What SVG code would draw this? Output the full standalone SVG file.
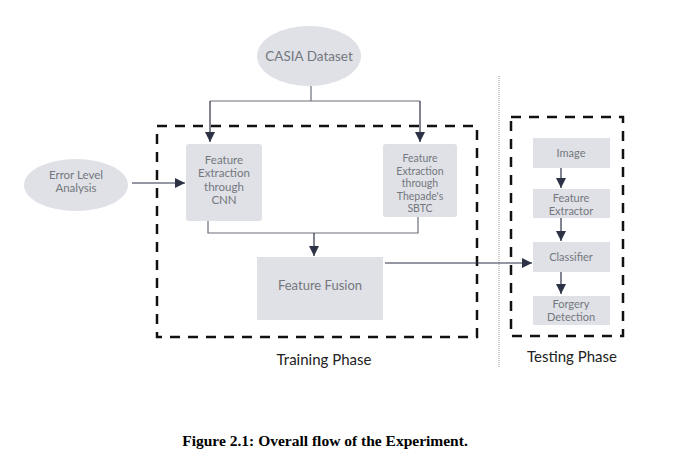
<svg xmlns="http://www.w3.org/2000/svg" width="679" height="457" viewBox="0 0 679 457">
<defs>
<marker id="ah" viewBox="0 0 10 10" refX="10" refY="5" markerWidth="10" markerHeight="10" markerUnits="userSpaceOnUse" orient="auto">
<path d="M0,0 L10,5 L0,10 Z" fill="#2d3246"/>
</marker>
<style>
.box{fill:#dfe1e6;}
.t{font-family:Lato,"Open Sans","Liberation Sans",sans-serif;fill:#74777e;text-anchor:middle;}
.ln{fill:none;stroke:#6b6f7a;stroke-width:1.2;}
.arr{fill:none;stroke:#2d3246;stroke-width:1.2;marker-end:url(#ah);}
.dash{fill:none;stroke:#111;stroke-width:2.5;stroke-dasharray:10 8;}
.ph{font-family:Lato,"Open Sans","Liberation Sans",sans-serif;fill:#222;text-anchor:middle;font-size:15px;}
</style>
</defs>
<rect width="679" height="457" fill="#fff"/>
<g id="training-frame"><rect class="dash" x="157" y="126" width="320" height="211"/></g>
<g id="testing-frame"><rect class="dash" x="511" y="117" width="112" height="219"/></g>
<g id="divider"><line x1="499" y1="76" x2="499" y2="368" stroke="#999" stroke-width="1" stroke-dasharray="1 1"/></g>
<g id="connectors">
<path class="ln" d="M311,86 V101 M210,101 H420"/>
<path class="arr" d="M210,101 V142"/>
<path class="arr" d="M420,101 V142"/>
<path class="ln" d="M208,221 V233 H418 V217"/>
<path class="arr" d="M314,233 V256"/>
<path class="arr" d="M132,183 H185"/>
<path class="arr" d="M385,263 H532"/>
<path class="arr" d="M561,168 V188"/>
<path class="arr" d="M561,218 V241"/>
<path class="arr" d="M561,272 V294"/>
</g>
<g id="casia">
<ellipse cx="309" cy="56" rx="52" ry="30" fill="#dfe1e6"/>
<text class="t" x="309" y="61" font-size="13.5">CASIA Dataset</text>
</g>
<g id="ela">
<ellipse cx="76" cy="185" rx="52" ry="26" fill="#dfe1e6"/>
<text class="t" font-size="11.5"><tspan x="76" y="179">Error Level</tspan><tspan x="76" y="192">Analysis</tspan></text>
</g>
<g id="cnn">
<rect class="box" x="186" y="144" width="76" height="77" rx="3"/>
<text class="t" font-size="11.5"><tspan x="224" y="164">Feature</tspan><tspan x="224" y="177">Extraction</tspan><tspan x="224" y="191">through</tspan><tspan x="224" y="204">CNN</tspan></text>
</g>
<g id="sbtc">
<rect class="box" x="383" y="144" width="74" height="73" rx="3"/>
<text class="t" font-size="10.5"><tspan x="420" y="162">Feature</tspan><tspan x="420" y="175">Extraction</tspan><tspan x="420" y="187">through</tspan><tspan x="420" y="200">Thepade's</tspan><tspan x="420" y="212">SBTC</tspan></text>
</g>
<g id="fusion">
<rect class="box" x="257" y="257" width="126" height="63"/>
<text class="t" x="320" y="290" font-size="13">Feature Fusion</text>
</g>
<g id="image">
<rect class="box" x="533" y="138" width="77" height="30"/>
<text class="t" x="571" y="157" font-size="11">Image</text>
</g>
<g id="extractor">
<rect class="box" x="533" y="189" width="77" height="29"/>
<text class="t" font-size="11"><tspan x="571" y="202">Feature</tspan><tspan x="571" y="215">Extractor</tspan></text>
</g>
<g id="classifier">
<rect class="box" x="533" y="242" width="77" height="30"/>
<text class="t" x="571" y="261" font-size="11">Classifier</text>
</g>
<g id="forgery">
<rect class="box" x="533" y="296" width="77" height="29"/>
<text class="t" font-size="11"><tspan x="571" y="308">Forgery</tspan><tspan x="571" y="321">Detection</tspan></text>
</g>
<text class="ph" x="324" y="365">Training Phase</text>
<text class="ph" x="572" y="362">Testing Phase</text>
<text x="325" y="446" font-family="'Liberation Serif','Times New Roman',serif" font-weight="bold" font-size="15.5" text-anchor="middle" fill="#000">Figure 2.1: Overall flow of the Experiment.</text>
</svg>
